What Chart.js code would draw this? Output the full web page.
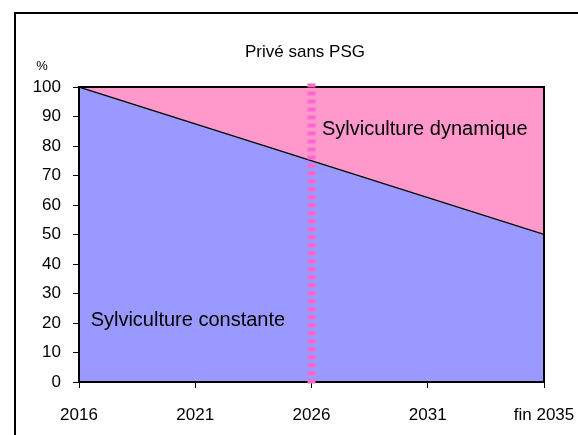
<!DOCTYPE html>
<html>
<head>
<meta charset="utf-8">
<script src="https://cdn.jsdelivr.net/npm/chart.js@4/dist/chart.umd.min.js"></script>
<style>
  html, body { margin: 0; padding: 0; background: #fff; overflow: hidden; }
  canvas { display: block; }
</style>
</head>
<body>
<canvas id="chart" width="578" height="435"></canvas>
<script>
// Data
const years = [2016, 2036];            // start of 2016 -> end of 2035
const constante = [100, 50];           // Sylviculture constante (%)
const total = [100, 100];              // upper limit of the dynamique area
const markerYear = 2026;
const markerRange = [-0.5, 102];
const xTickValues = [2016, 2021, 2026, 2031, 2036];
const xTickLabels = ['2016', '2021', '2026', '2031', 'fin 2035'];

const FONT = 'Liberation Sans, Arial, sans-serif';

// Frame, box and texts
const decorPlugin = {
    id: 'decor',
    beforeDraw(chart) {
        const ctx = chart.ctx;
        ctx.save();
        ctx.strokeStyle = '#000';
        ctx.lineWidth = 2;
        ctx.strokeRect(15, 13, 1000, 1000);
        ctx.restore();
    },
    afterDatasetDraw(chart, args) {
        if (args.index !== 0) return;
        const a = chart.chartArea;
        const ctx = chart.ctx;
        ctx.save();
        ctx.strokeStyle = '#000';
        ctx.lineWidth = 2;
        ctx.strokeRect(a.left, a.top, a.right - a.left, a.bottom - a.top);
        ctx.restore();
    },
    afterDraw(chart) {
        const ctx = chart.ctx;
        const x = chart.scales.x, y = chart.scales.y;
        ctx.save();
        ctx.fillStyle = '#000';
        ctx.textBaseline = 'middle';
        ctx.textAlign = 'center';
        ctx.font = '17px ' + FONT;
        ctx.fillText('Privé sans PSG', 305, 52);
        ctx.font = '13px ' + FONT;
        ctx.fillText('%', 42, 66);
        ctx.textAlign = 'left';
        ctx.font = '20px ' + FONT;
        ctx.fillText('Sylviculture dynamique', x.getPixelForValue(2026.45), y.getPixelForValue(85.5));
        ctx.fillText('Sylviculture constante', x.getPixelForValue(2016.5), y.getPixelForValue(21));
        ctx.restore();
    }
};

new Chart(document.getElementById('chart'), {
    type: 'line',
    data: {
        datasets: [{
            label: 'Sylviculture constante',
            data: years.map((yr, i) => ({ x: yr, y: constante[i] })),
            borderColor: '#000',
            borderWidth: 1.2,
            backgroundColor: '#9999FF',
            fill: 'origin',
            pointRadius: 0,
            tension: 0,
            order: 1
        }, {
            label: 'Sylviculture dynamique',
            data: years.map((yr, i) => ({ x: yr, y: total[i] })),
            borderWidth: 0,
            borderColor: 'rgba(0,0,0,0)',
            backgroundColor: '#FF99CC',
            fill: '-1',
            pointRadius: 0,
            order: 1
        }, {
            label: 'marker',
            data: markerRange.map(v => ({ x: markerYear, y: v })),
            borderColor: '#FF66CC',
            borderWidth: 8,
            borderDash: [4, 4],
            borderCapStyle: 'butt',
            fill: false,
            pointRadius: 0,
            clip: false,
            order: 0
        }]
    },
    options: {
        responsive: false,
        animation: false,
        layout: { padding: { left: 0, top: 87, right: 34, bottom: 0 } },
        plugins: {
            legend: { display: false },
            tooltip: { enabled: false }
        },
        scales: {
            x: {
                type: 'linear',
                min: 2016,
                max: 2036,
                afterBuildTicks: scale => { scale.ticks = xTickValues.map(v => ({ value: v })); },
                afterFit: scale => {
                    scale.height = 53;
                    scale.paddingLeft = 0;
                    scale.paddingRight = 0;
                },
                ticks: {
                    color: '#000',
                    font: { family: FONT, size: 17 },
                    padding: 17,
                    maxRotation: 0,
                    autoSkip: false,
                    callback: (v) => xTickLabels[xTickValues.indexOf(v)]
                },
                grid: { drawOnChartArea: false, drawTicks: true, tickLength: 6, color: '#000' },
                border: { display: false }
            },
            y: {
                min: 0,
                max: 100,
                afterFit: scale => {
                    scale.width = 79;
                    scale.paddingTop = 0;
                    scale.paddingBottom = 0;
                },
                ticks: {
                    stepSize: 10,
                    color: '#000',
                    font: { family: FONT, size: 17 },
                    padding: 12
                },
                grid: { drawOnChartArea: false, drawTicks: true, tickLength: 6, color: '#000' },
                border: { display: false }
            }
        }
    },
    plugins: [decorPlugin]
});
</script>
</body>
</html>
